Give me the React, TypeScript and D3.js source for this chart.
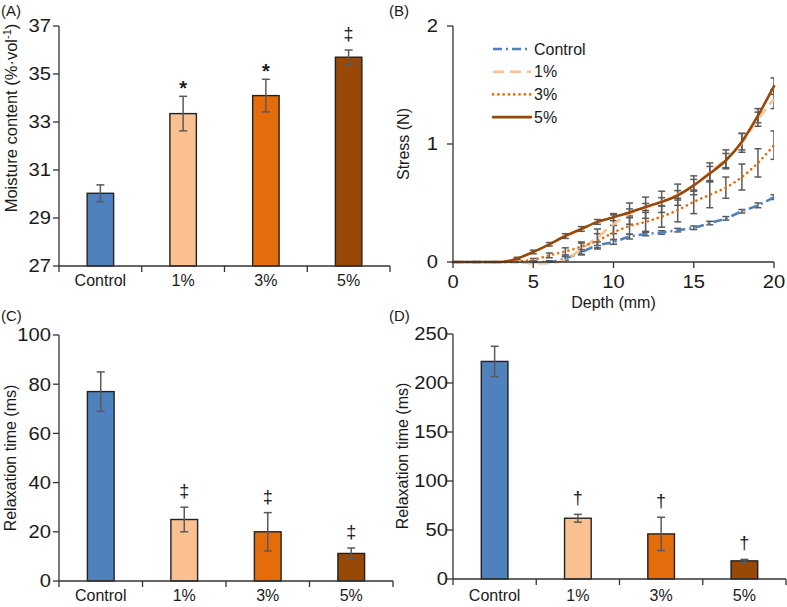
import React from 'react';
import * as d3 from 'd3';

const categories = ['Control', '1%', '3%', '5%'];
const barColors = ['#4F81BD', '#FAC090', '#E46C0A', '#984807'];

const moisture = [30.03, 33.35, 34.1, 35.7];
const moistureErr = [0.35, 0.72, 0.68, 0.3];
const moistureMarks = ['', '*', '*', '‡'];
const moistureTicks = [27, 29, 31, 33, 35, 37];

const relaxC = [77, 25, 20, 11.2];
const relaxCErr = [8, 5, 7.8, 2.2];
const relaxCMarks = ['', '‡', '‡', '‡'];
const relaxCTicks = [0, 20, 40, 60, 80, 100];

const relaxD = [222, 62, 46, 18.5];
const relaxDErr = [15.5, 4, 17, 1.5];
const relaxDMarks = ['', '†', '†', '†'];
const relaxDTicks = [0, 50, 100, 150, 200, 250];

const depth = [0, 1, 2, 3, 4, 5, 6, 7, 8, 9, 10, 11, 12, 13, 14, 15, 16, 17, 18, 19, 20];
const stressControl = [0, 0, 0, 0, 0, 0, 0, 0.03, 0.085, 0.14, 0.17, 0.215, 0.237, 0.25, 0.27, 0.29, 0.33, 0.37, 0.43, 0.48, 0.55];
const stress1 = [0, 0, 0, 0, 0, -0.01, -0.01, 0.02, 0.11, 0.21, 0.32, 0.41, 0.46, 0.51, 0.57, 0.65, 0.76, 0.87, 1.01, 1.21, 1.38];
const stress3 = [0, 0, 0, 0, 0.005, 0.02, 0.056, 0.09, 0.13, 0.18, 0.25, 0.305, 0.34, 0.385, 0.44, 0.51, 0.57, 0.63, 0.72, 0.84, 0.99];
const stress5 = [0, 0, 0, 0, 0.03, 0.085, 0.15, 0.22, 0.28, 0.34, 0.38, 0.42, 0.466, 0.51, 0.565, 0.65, 0.75, 0.86, 1.02, 1.24, 1.49];
const errControl = [0, 0, 0, 0, 0, 0.01, 0.01, 0.015, 0.02, 0.03, 0.02, 0.02, 0.015, 0.015, 0.015, 0.015, 0.015, 0.015, 0.015, 0.02, 0.02];
const err1 = [0, 0, 0, 0, 0, 0.01, 0.02, 0.03, 0.05, 0.07, 0.08, 0.09, 0.09, 0.09, 0.09, 0.08, 0.08, 0.08, 0.08, 0.06, 0.08];
const err3 = [0, 0, 0, 0, 0, 0.01, 0.02, 0.03, 0.04, 0.06, 0.06, 0.07, 0.08, 0.09, 0.1, 0.1, 0.11, 0.09, 0.11, 0.12, 0.12];
const err5 = [0, 0, 0, 0, 0.01, 0.015, 0.015, 0.02, 0.02, 0.02, 0.03, 0.03, 0.03, 0.035, 0.04, 0.05, 0.06, 0.06, 0.07, 0.06, 0.07];
const stressTicksY = [0, 1, 2];
const depthTicks = [0, 5, 10, 15, 20];
const seriesNames = ['Control', '1%', '3%', '5%'];

const FONT = 'Liberation Sans, Arial, sans-serif';
const TXT = '#1a1a1a';
const AXIS = '#333333';
const ERR = '#5a5a5a';
const TICK_FS = 18;
const TICK_SX = 1.12;

function TickLabel({ x, y, anchor, children, central }: { x: number; y: number; anchor: string; children: any; central?: boolean }) {
  return (
    <text transform={`translate(${x},${y}) scale(${TICK_SX},1)`} dy={central ? '0.35em' : undefined}
      textAnchor={anchor as any} fontFamily={FONT} fontSize={TICK_FS} fill={TXT}>{children}</text>
  );
}

type BarCfg = {
  x0: number; x1: number; yTop: number; yBot: number;
  domain: [number, number]; ticks: number[];
  values: number[]; errs: number[]; marks: string[];
  tickLabelX: number; catBaseline: number;
};

function BarPanel(c: BarCfg) {
  const x = d3.scaleBand<string>().domain(categories).range([c.x0, c.x1]);
  const y = d3.scaleLinear().domain(c.domain).range([c.yBot, c.yTop]);
  const bw = x.bandwidth() * 0.32;
  return (
    <g>
      {c.values.map((v, i) => {
        const cx = (x(categories[i]) as number) + x.bandwidth() / 2;
        return (
          <rect key={'b' + i} x={cx - bw / 2} y={y(v)} width={bw} height={c.yBot - y(v)}
            fill={barColors[i]} stroke="#222" strokeWidth={1.4} />
        );
      })}
      {c.values.map((v, i) => {
        const cx = (x(categories[i]) as number) + x.bandwidth() / 2;
        const t = y(v + c.errs[i]);
        const b = y(v - c.errs[i]);
        return (
          <g key={'e' + i} stroke={ERR} strokeWidth={1.5}>
            <line x1={cx} x2={cx} y1={t} y2={b} />
            <line x1={cx - 4} x2={cx + 4} y1={t} y2={t} />
            <line x1={cx - 4} x2={cx + 4} y1={b} y2={b} />
          </g>
        );
      })}
      {c.values.map((v, i) => {
        if (!c.marks[i]) return null;
        const cx = (x(categories[i]) as number) + x.bandwidth() / 2;
        const t = y(v + c.errs[i]);
        const star = c.marks[i] === '*';
        return (
          <text key={'m' + i} x={cx} y={star ? t - 1 : t - 10} textAnchor="middle"
            fontFamily={FONT} fontSize={star ? 20 : 18} fontWeight={star ? 'bold' : 'normal'} fill={TXT}>
            {c.marks[i]}
          </text>
        );
      })}
      <line x1={c.x0} x2={c.x0} y1={c.yTop} y2={c.yBot} stroke={AXIS} strokeWidth={1.3} />
      <line x1={c.x0} x2={c.x1} y1={c.yBot} y2={c.yBot} stroke={AXIS} strokeWidth={1.3} />
      {c.ticks.map((t) => (
        <g key={'t' + t}>
          <line x1={c.x0 - 6} x2={c.x0} y1={y(t)} y2={y(t)} stroke={AXIS} strokeWidth={1.3} />
          <TickLabel x={c.tickLabelX} y={y(t)} anchor="end" central>{t}</TickLabel>
        </g>
      ))}
      {categories.map((cat, i) => (
        <line key={'ct' + i} x1={x(cat) as number} x2={x(cat) as number} y1={c.yBot} y2={c.yBot + 6} stroke={AXIS} strokeWidth={1.3} />
      ))}
      <line x1={c.x1} x2={c.x1} y1={c.yBot} y2={c.yBot + 6} stroke={AXIS} strokeWidth={1.3} />
      {categories.map((cat, i) => (
        <text key={'cl' + i} x={(x(cat) as number) + x.bandwidth() / 2} y={c.catBaseline} textAnchor="middle"
          fontFamily={FONT} fontSize={16} fill={TXT}>{cat}</text>
      ))}
    </g>
  );
}

function StressPanel() {
  const x0 = 453, x1 = 774, yTop = 26, yBot = 262;
  const x = d3.scaleLinear().domain([0, 20]).range([x0, x1]);
  const y = d3.scaleLinear().domain([0, 2]).range([yBot, yTop]);
  const series = [stressControl, stress1, stress3, stress5];
  const errs = [errControl, err1, err3, err5];
  const colors = ['#4F81BD', '#FAC090', '#E46C0A', '#984807'];
  const dashes = ['9,4,2,4', '11,6', '0.1,5.2', ''];
  const caps = ['butt', 'butt', 'round', 'round'];
  const line = d3.line<number>().x((_, i) => x(depth[i])).y((d) => y(d)).curve(d3.curveMonotoneX);
  return (
    <g>
      <defs>
        <clipPath id="bclip"><rect x={x0} y={0} width={x1 - x0} height={yBot} /></clipPath>
      </defs>
      <g clipPath="url(#bclip)">
        {series.map((s, si) => (
          <g key={'eb' + si} stroke={ERR} strokeWidth={1.5}>
            {s.map((v, i) => {
              const e = errs[si][i];
              if (!e) return null;
              const cx = x(depth[i]);
              return (
                <g key={i}>
                  <line x1={cx} x2={cx} y1={y(v + e)} y2={y(v - e)} />
                  <line x1={cx - 3.5} x2={cx + 3.5} y1={y(v + e)} y2={y(v + e)} />
                  <line x1={cx - 3.5} x2={cx + 3.5} y1={y(v - e)} y2={y(v - e)} />
                </g>
              );
            })}
          </g>
        ))}
      </g>
      {series.map((s, si) => (
        <path key={'l' + si} d={line(s) || ''} fill="none" stroke={colors[si]} strokeWidth={2.6}
          strokeDasharray={dashes[si] || undefined} strokeLinecap={caps[si] as any} />
      ))}
      <line x1={x0} x2={x0} y1={yTop} y2={yBot} stroke={AXIS} strokeWidth={1.3} />
      <line x1={x0} x2={x1} y1={yBot} y2={yBot} stroke={AXIS} strokeWidth={1.3} />
      {stressTicksY.map((t) => (
        <g key={'yt' + t}>
          <line x1={x0 - 6} x2={x0} y1={y(t)} y2={y(t)} stroke={AXIS} strokeWidth={1.3} />
          <TickLabel x={438} y={y(t)} anchor="end" central>{t}</TickLabel>
        </g>
      ))}
      {depthTicks.map((t) => (
        <g key={'xt' + t}>
          <line x1={x(t)} x2={x(t)} y1={yBot} y2={yBot + 6} stroke={AXIS} strokeWidth={1.3} />
          <TickLabel x={x(t)} y={288} anchor="middle">{t}</TickLabel>
        </g>
      ))}
      <text x={(x0 + x1) / 2} y={308} textAnchor="middle" fontFamily={FONT} fontSize={16} fill={TXT}>Depth (mm)</text>
      <text transform={`translate(409, ${(yTop + yBot) / 2}) rotate(-90)`} textAnchor="middle" fontFamily={FONT} fontSize={16} fill={TXT}>Stress (N)</text>
      {seriesNames.map((n, i) => {
        const ly = 49 + i * 22.7;
        return (
          <g key={'lg' + i}>
            <line x1={493} x2={531} y1={ly} y2={ly} stroke={colors[i]} strokeWidth={2.6}
              strokeDasharray={dashes[i] || undefined} strokeLinecap={caps[i] as any} />
            <text x={534} y={ly} dy="0.35em" fontFamily={FONT} fontSize={16} fill={TXT}>{n}</text>
          </g>
        );
      })}
    </g>
  );
}

export default function App() {
  return (
    <svg width={787} height={607} style={{ position: 'absolute', left: 0, top: 0, background: '#fff' }}>
      <rect x={0} y={0} width={787} height={607} fill="#fff" />
      <text x={1} y={16} fontFamily={FONT} fontSize={15} fill={TXT}>(A)</text>
      <text x={389} y={16} fontFamily={FONT} fontSize={15} fill={TXT}>(B)</text>
      <text x={1} y={321} fontFamily={FONT} fontSize={15} fill={TXT}>(C)</text>
      <text x={389} y={321} fontFamily={FONT} fontSize={15} fill={TXT}>(D)</text>

      <BarPanel x0={59} x1={390} yTop={26} yBot={266} domain={[27, 37]} ticks={moistureTicks}
        values={moisture} errs={moistureErr} marks={moistureMarks} tickLabelX={51} catBaseline={286} />
      <text transform="translate(17, 118) rotate(-90)" textAnchor="middle" fontFamily={FONT} fontSize={16.5} fill={TXT}>
        <tspan>Moisture content (%·vol</tspan>
        <tspan fontSize={11} dy={-6}>-1</tspan>
        <tspan dy={6}>)</tspan>
      </text>

      <StressPanel />

      <BarPanel x0={59} x1={393} yTop={335} yBot={581} domain={[0, 100]} ticks={relaxCTicks}
        values={relaxC} errs={relaxCErr} marks={relaxCMarks} tickLabelX={51} catBaseline={601} />
      <text transform="translate(16, 458) rotate(-90)" textAnchor="middle" fontFamily={FONT} fontSize={16} fill={TXT}>Relaxation time (ms)</text>

      <BarPanel x0={453} x1={786} yTop={334} yBot={579} domain={[0, 250]} ticks={relaxDTicks}
        values={relaxD} errs={relaxDErr} marks={relaxDMarks} tickLabelX={448} catBaseline={601} />
      <text transform="translate(408, 456) rotate(-90)" textAnchor="middle" fontFamily={FONT} fontSize={16} fill={TXT}>Relaxation time (ms)</text>
    </svg>
  );
}
